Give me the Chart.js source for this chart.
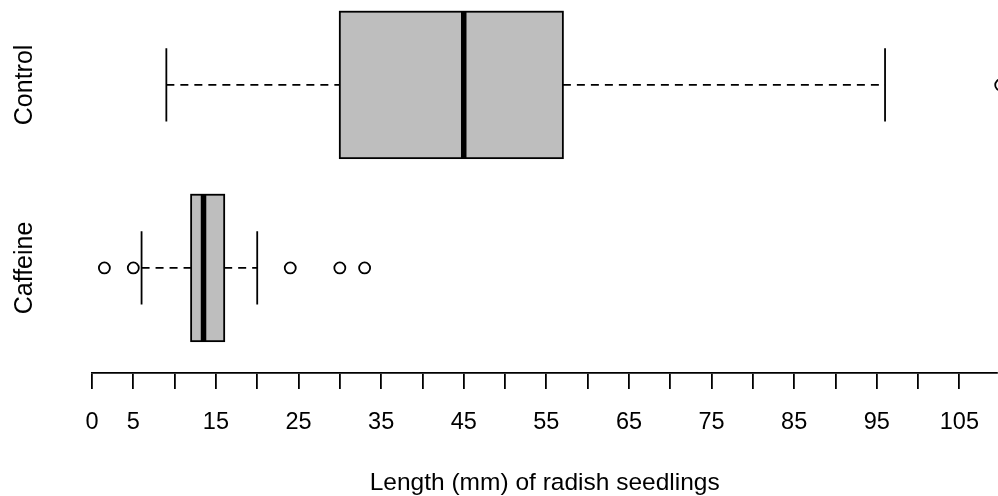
<!DOCTYPE html>
<html>
<head>
<meta charset="utf-8">
<script src="https://cdn.jsdelivr.net/npm/chart.js@4.4.1/dist/chart.umd.min.js"></script>
<style>
  html, body { margin: 0; padding: 0; background: #fff; }
  #wrap { width: 998px; height: 496px; position: relative; }
</style>
</head>
<body>
<div id="wrap"><canvas id="c" width="998" height="496"></canvas></div>
<script>
// ---- data ----
const groups = ['Caffeine', 'Control'];          // y positions 1, 2
const whiskerLow  = [6, 9];
const q1          = [12, 30];
const median      = [13.5, 45];
const q3          = [16, 57];
const whiskerHigh = [20, 96];
const outliersCaffeine = [1.5, 5, 24, 30, 33];
const outliersControl  = [110];
const xTickValues = [0,5,10,15,20,25,30,35,40,45,50,55,60,65,70,75,80,85,90,95,100,105];
const xTickLabels = ['0','5','15','25','35','45','55','65','75','85','95','105'];
const xTitle = 'Length (mm) of radish seedlings';

const FONT = '"Liberation Sans", Arial, Helvetica, sans-serif';

const outlierPoints = [];
outliersCaffeine.forEach(v => outlierPoints.push({x: v, y: 1}));
outliersControl.forEach(v => outlierPoints.push({x: v, y: 2}));

const boxPlugin = {
  id: 'boxes',
  beforeDatasetsDraw(chart) {
    const ctx = chart.ctx;
    const xs = chart.scales.x, ys = chart.scales.y;
    ctx.save();
    for (let i = 0; i < groups.length; i++) {
      const pos = i + 1;
      const yc = ys.getPixelForValue(pos);
      const yT = ys.getPixelForValue(pos + 0.4);
      const yB = ys.getPixelForValue(pos - 0.4);
      const cT = ys.getPixelForValue(pos + 0.2);
      const cB = ys.getPixelForValue(pos - 0.2);
      const xl = xs.getPixelForValue(whiskerLow[i]);
      const x1 = xs.getPixelForValue(q1[i]);
      const xm = xs.getPixelForValue(median[i]);
      const x3 = xs.getPixelForValue(q3[i]);
      const xh = xs.getPixelForValue(whiskerHigh[i]);
      // dashed whiskers
      ctx.strokeStyle = '#000';
      ctx.lineWidth = 1.8;
      ctx.setLineDash([8, 6]);
      ctx.beginPath();
      ctx.moveTo(xl, yc); ctx.lineTo(x1, yc);
      ctx.moveTo(x3, yc); ctx.lineTo(xh, yc);
      ctx.stroke();
      ctx.setLineDash([]);
      // staples
      ctx.beginPath();
      ctx.moveTo(xl, cT); ctx.lineTo(xl, cB);
      ctx.moveTo(xh, cT); ctx.lineTo(xh, cB);
      ctx.stroke();
      // box
      ctx.fillStyle = '#BEBEBE';
      ctx.fillRect(x1, yT, x3 - x1, yB - yT);
      ctx.strokeRect(x1, yT, x3 - x1, yB - yT);
      // median
      ctx.lineWidth = 5.5;
      ctx.lineCap = 'butt';
      ctx.beginPath();
      ctx.moveTo(xm, yT); ctx.lineTo(xm, yB);
      ctx.stroke();
      // group label (rotated)
      ctx.save();
      ctx.translate(32, yc);
      ctx.rotate(-Math.PI / 2);
      ctx.font = '25px ' + FONT;
      ctx.fillStyle = '#000';
      ctx.textAlign = 'center';
      ctx.textBaseline = 'alphabetic';
      ctx.fillText(groups[i], 0, 0);
      ctx.restore();
    }
    ctx.restore();
  }
};

new Chart(document.getElementById('c'), {
  type: 'scatter',
  data: {
    datasets: [{
      data: outlierPoints,
      pointStyle: 'circle',
      pointRadius: 5.5,
      pointBorderWidth: 1.8,
      pointBorderColor: '#000',
      pointBackgroundColor: 'rgba(0,0,0,0)',
      showLine: false,
      clip: false
    }]
  },
  options: {
    responsive: false,
    animation: false,
    events: [],
    layout: { autoPadding: false, padding: { left: 92, top: 0, right: 0, bottom: 0 } },
    plugins: { legend: { display: false }, tooltip: { enabled: false } },
    scales: {
      x: {
        type: 'linear',
        min: 0,
        max: 109.6,
        afterBuildTicks(scale) {
          scale.ticks = xTickValues.map(v => ({ value: v }));
        },
        afterFit(scale) { scale.height = 123; },
        border: { display: true, color: '#000', width: 1.8 },
        grid: { display: true, drawOnChartArea: false, drawTicks: true, tickLength: 16, color: '#000', lineWidth: 1.8 },
        ticks: {
          autoSkip: false,
          maxRotation: 0,
          minRotation: 0,
          padding: 19,
          color: '#000',
          font: { family: FONT, size: 23.5 },
          callback(v) {
            const s = String(v);
            return xTickLabels.includes(s) ? s : '';
          }
        },
        title: {
          display: true,
          text: xTitle,
          color: '#000',
          font: { family: FONT, size: 24.5, lineHeight: 1 },
          padding: { top: 0, bottom: 1 }
        }
      },
      y: {
        type: 'linear',
        display: false,
        min: 0.426,
        max: 2.464
      }
    }
  },
  plugins: [boxPlugin]
});
</script>
</body>
</html>
